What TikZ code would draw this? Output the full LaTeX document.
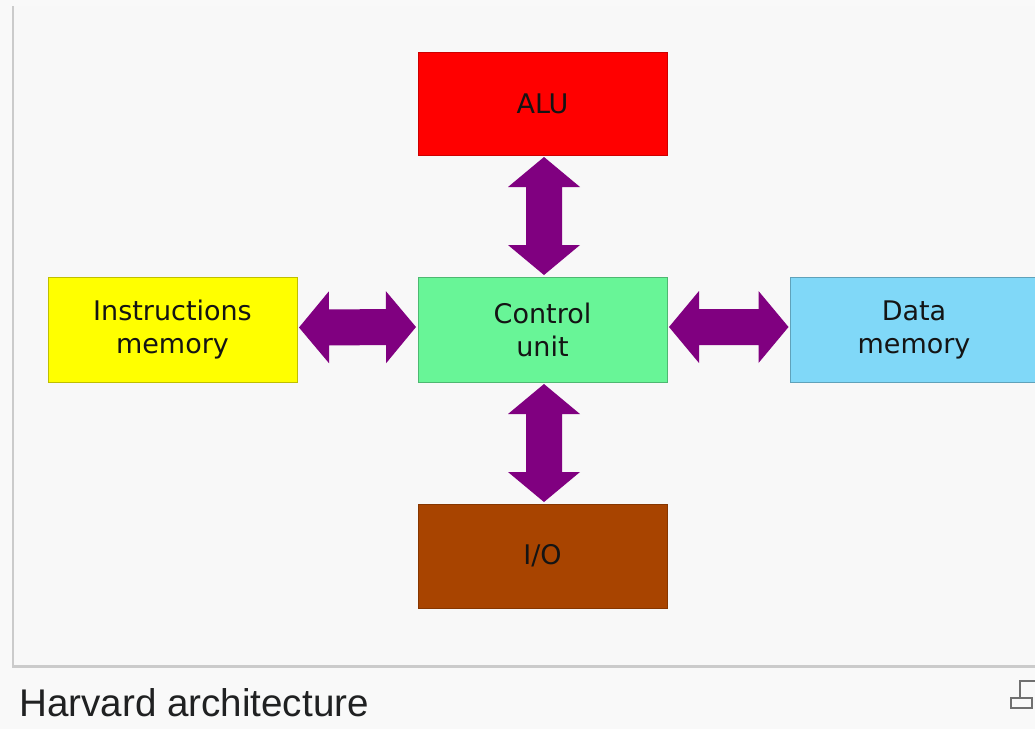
\documentclass[tikz,border=0pt]{standalone}
\usepackage{fontspec}
\setmainfont{DejaVu Sans}
\newfontfamily\captionfont{Liberation Sans}
\usetikzlibrary{calc}

\definecolor{pagebg}{HTML}{F9F9F9}
\definecolor{panelbg}{HTML}{F8F8F8}
\definecolor{panelline}{HTML}{CBCBCB}
\definecolor{alured}{HTML}{FF0000}
\definecolor{cugreen}{HTML}{68F597}
\definecolor{iobrown}{HTML}{A84400}
\definecolor{instyellow}{HTML}{FFFF00}
\definecolor{datablue}{HTML}{80D8F8}
\definecolor{arrowpurple}{HTML}{800080}
\definecolor{textdark}{HTML}{141414}
\definecolor{captiontext}{HTML}{202122}
\definecolor{icongray}{HTML}{707070}

\tikzset{
  unitbox/.style={draw, line width=1pt, minimum width=249pt, minimum height=105pt,
    inner sep=0pt, align=center, font=\fontsize{27}{33}\selectfont, text=textdark},
  fatarrow/.style={fill=arrowpurple}
}

% Double-headed block arrow between two anchors
\newcommand\blockarrow[2]{%
  \coordinate (ba-a) at ($(#1)!1.5pt!(#2)$);
  \coordinate (ba-b) at ($(#2)!1.5pt!(#1)$);
  \coordinate (ba-h1) at ($(ba-a)!30pt!(ba-b)$);
  \coordinate (ba-h2) at ($(ba-b)!30pt!(ba-a)$);
  \fill[fatarrow] (ba-a)
    -- ($(ba-h1)!36pt!90:(ba-b)$) -- ($(ba-h1)!18pt!90:(ba-b)$)
    -- ($(ba-h2)!18pt!-90:(ba-a)$) -- ($(ba-h2)!36pt!-90:(ba-a)$)
    -- (ba-b)
    -- ($(ba-h2)!36pt!90:(ba-a)$) -- ($(ba-h2)!18pt!90:(ba-a)$)
    -- ($(ba-h1)!18pt!-90:(ba-b)$) -- ($(ba-h1)!36pt!-90:(ba-b)$)
    -- cycle;
}

\begin{document}
\begin{tikzpicture}[x=1pt,y=-1pt]
\useasboundingbox (0,0) rectangle (1035,729);
\clip (0,0) rectangle (1035,729);
\fill[pagebg] (0,0) rectangle (1035,729);

% figure frame
\fill[panelbg] (13,6) rectangle (1040,666.5);
\draw[panelline, line width=2.5pt] (13,6) -- (13,666.5) -- (1040,666.5);

% functional units
\node[unitbox, fill=alured, draw=alured!80!black, minimum height=103pt] (alu) at (542.5,103.5) {ALU};
\node[unitbox, fill=cugreen, draw=cugreen!75!black] (cu) at (542.5,329.5) {Control\\unit};
\node[unitbox, fill=iobrown, draw=iobrown!80!black, minimum height=104pt] (io) at (542.5,556) {I/O};
\node[unitbox, fill=instyellow, draw=instyellow!75!black] (imem) at (172.5,330) {Instructions\\memory};
\node[unitbox, fill=datablue, draw=datablue!75!black, minimum width=247pt] (dmem) at (914,329.5) {Data\\memory};

% buses
\blockarrow{[xshift=1.5pt]alu.south}{[xshift=1.5pt]cu.north}
\blockarrow{[xshift=1.5pt]cu.south}{[xshift=1.5pt]io.north}
\blockarrow{[yshift=2.5pt]imem.east}{[yshift=2.5pt]cu.west}
\blockarrow{[yshift=2.5pt]cu.east}{[yshift=2.5pt]dmem.west}

% caption
\node[anchor=base west, inner sep=0pt, text=captiontext,
      font=\captionfont\fontsize{38.6}{38.6}\selectfont] (caption) at (19,716) {Harvard architecture};

% enlarge icon
\draw[icongray, line width=2.5pt] (1020,699) -- (1020,681) -- (1037,681);
\draw[icongray, line width=2.5pt] (1011,698) rectangle (1032,708);
\end{tikzpicture}
\end{document}
